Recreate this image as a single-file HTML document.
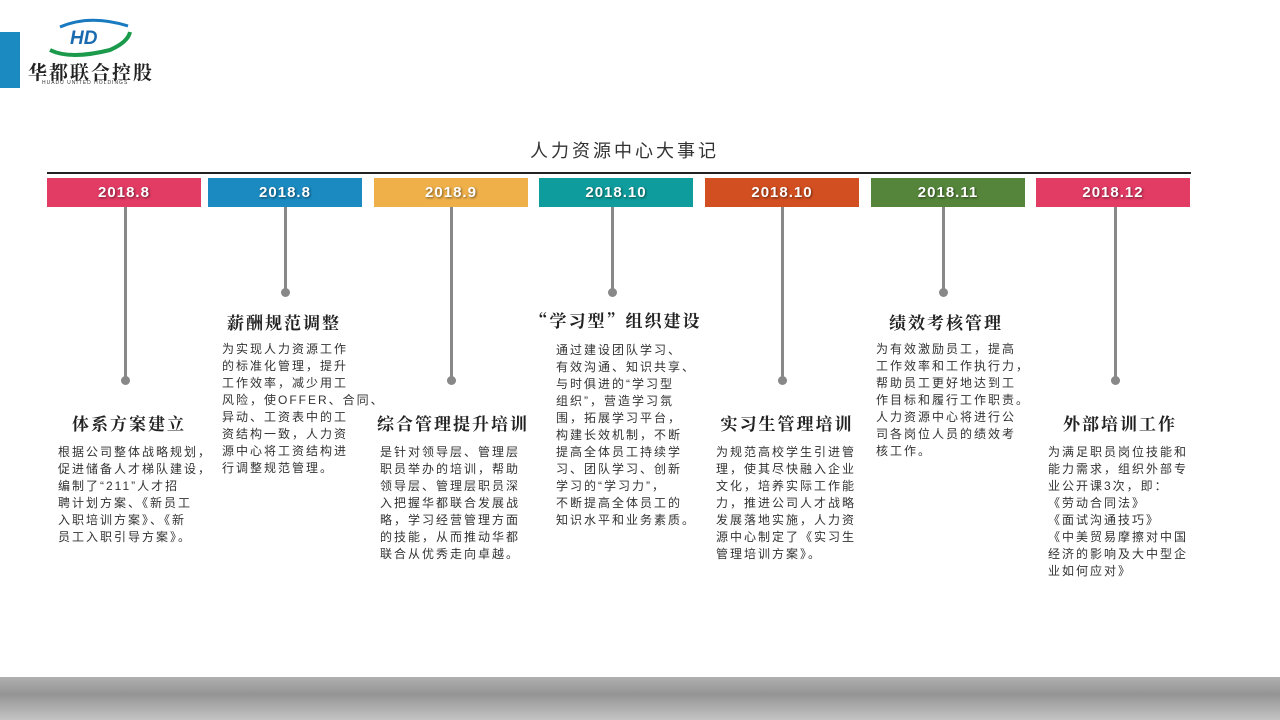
<!DOCTYPE html>
<html><head><meta charset="utf-8"><style>
body{margin:0;width:1280px;height:720px;background:#fff;position:relative;overflow:hidden;font-family:"Liberation Sans","Noto Sans CJK SC",sans-serif;}
.a{position:absolute}
.bar{position:absolute;top:178px;height:29px;width:154px;color:#fff;font-weight:bold;font-size:15px;text-align:center;line-height:29px;letter-spacing:1px;text-shadow:1px 1px 2px rgba(0,0,0,.5)}
.ln{position:absolute;top:207px;width:3px;background:#888}
.dot{position:absolute;width:9px;height:9px;border-radius:50%;background:#888}
.h{position:absolute;font-size:17px;font-weight:bold;letter-spacing:2px;color:#222;white-space:nowrap;transform:translateX(-50%);font-family:"Noto Serif CJK SC",serif}
.t{position:absolute;font-size:12px;letter-spacing:2px;line-height:17px;color:#333;white-space:nowrap}
</style></head><body>
<div class="a" style="left:0;top:32px;width:20px;height:56px;background:#1a8ac0"></div>
<svg class="a" style="left:40px;top:12px" width="100" height="45"><path d="M10 38 Q30 48 70 38 Q88 30 90 20" stroke="#1a9a4a" stroke-width="4" fill="none"/><path d="M20 15 Q50 2 88 14" stroke="#1a7ac0" stroke-width="3" fill="none"/><text x="30" y="32" font-size="19" font-style="italic" font-weight="bold" fill="#1a6ab0" font-family="Liberation Sans">HD</text></svg>
<div class="a" style="left:28px;top:58px;font-size:19px;font-weight:bold;letter-spacing:2px;color:#222;font-family:'Noto Serif CJK SC',serif">华都联合控股</div>
<div class="a" style="left:42px;top:80px;font-size:5px;letter-spacing:1px;color:#333">HUADU UNITED HOLDINGS</div>
<div class="a" style="left:530px;top:137px;font-size:18px;letter-spacing:3px;color:#333">人力资源中心大事记</div>
<div class="a" style="left:47px;top:172px;width:1144px;height:2px;background:#222"></div>
<div class="bar" style="left:47px;background:#e23b64">2018.8</div>
<div class="bar" style="left:208px;background:#1a8ac0">2018.8</div>
<div class="bar" style="left:374px;background:#efb04a">2018.9</div>
<div class="bar" style="left:539px;background:#0f9c9c">2018.10</div>
<div class="bar" style="left:705px;background:#d24f21">2018.10</div>
<div class="bar" style="left:871px;background:#55853a">2018.11</div>
<div class="bar" style="left:1036px;background:#e23b64">2018.12</div>
<div class="ln" style="left:124px;height:173px"></div><div class="dot" style="left:121px;top:376px"></div>
<div class="ln" style="left:284px;height:85px"></div><div class="dot" style="left:281px;top:288px"></div>
<div class="ln" style="left:450px;height:173px"></div><div class="dot" style="left:447px;top:376px"></div>
<div class="ln" style="left:611px;height:85px"></div><div class="dot" style="left:608px;top:288px"></div>
<div class="ln" style="left:781px;height:173px"></div><div class="dot" style="left:778px;top:376px"></div>
<div class="ln" style="left:942px;height:85px"></div><div class="dot" style="left:939px;top:288px"></div>
<div class="ln" style="left:1114px;height:173px"></div><div class="dot" style="left:1111px;top:376px"></div>

<div class="h" style="left:129px;top:410px">体系方案建立</div>
<div class="t" style="left:58px;top:444px">根据公司整体战略规划，<br>促进储备人才梯队建设，<br>编制了“211”人才招<br>聘计划方案、《新员工<br>入职培训方案》、《新<br>员工入职引导方案》。</div>
<div class="h" style="left:284px;top:309px">薪酬规范调整</div>
<div class="t" style="left:222px;top:341px">为实现人力资源工作<br>的标准化管理，提升<br>工作效率，减少用工<br>风险，使OFFER、合同、<br>异动、工资表中的工<br>资结构一致，人力资<br>源中心将工资结构进<br>行调整规范管理。</div>
<div class="h" style="left:453px;top:410px">综合管理提升培训</div>
<div class="t" style="left:380px;top:444px">是针对领导层、管理层<br>职员举办的培训，帮助<br>领导层、管理层职员深<br>入把握华都联合发展战<br>略，学习经营管理方面<br>的技能，从而推动华都<br>联合从优秀走向卓越。</div>
<div class="h" style="left:616px;top:307px">“学习型”组织建设</div>
<div class="t" style="left:556px;top:342px">通过建设团队学习、<br>有效沟通、知识共享、<br>与时俱进的“学习型<br>组织”，营造学习氛<br>围，拓展学习平台，<br>构建长效机制，不断<br>提高全体员工持续学<br>习、团队学习、创新<br>学习的“学习力”，<br>不断提高全体员工的<br>知识水平和业务素质。</div>
<div class="h" style="left:787px;top:410px">实习生管理培训</div>
<div class="t" style="left:716px;top:444px">为规范高校学生引进管<br>理，使其尽快融入企业<br>文化，培养实际工作能<br>力，推进公司人才战略<br>发展落地实施，人力资<br>源中心制定了《实习生<br>管理培训方案》。</div>
<div class="h" style="left:946px;top:309px">绩效考核管理</div>
<div class="t" style="left:876px;top:341px">为有效激励员工，提高<br>工作效率和工作执行力，<br>帮助员工更好地达到工<br>作目标和履行工作职责。<br>人力资源中心将进行公<br>司各岗位人员的绩效考<br>核工作。</div>
<div class="h" style="left:1120px;top:410px">外部培训工作</div>
<div class="t" style="left:1048px;top:444px">为满足职员岗位技能和<br>能力需求，组织外部专<br>业公开课3次，即：<br>《劳动合同法》<br>《面试沟通技巧》<br>《中美贸易摩擦对中国<br>经济的影响及大中型企<br>业如何应对》</div>

<div class="a" style="left:0;top:677px;width:1280px;height:43px;background:linear-gradient(#b0b0b0,#949494 40%,#c4c4c4)"></div>
</body></html>
